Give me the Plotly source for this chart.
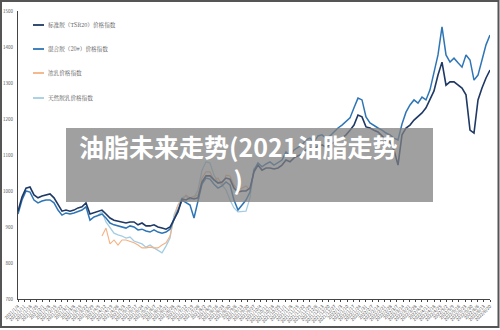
import numpy as np
import pandas as pd
import plotly.graph_objects as go

# ---- data ----
series_names = ["标准胶（TSR20）价格指数", "混合胶（20#）价格指数", "浓乳价格指数", "天然胶乳价格指数"]
series_colors = ["#1f3864", "#2e75b6", "#f4b183", "#a3cde3"]

tsr20 = [944, 983, 1008, 1011, 989, 981, 986, 989, 992, 981,
         961, 944, 947, 944, 947, 953, 956, 967, 936, 939,
         942, 947, 936, 925, 919, 917, 914, 911, 914, 914,
         906, 911, 903, 903, 906, 900, 897, 894, 900, 922,
         942, 978, 975, 981, 978, 981, 1025, 1042, 1042, 1031,
         1022, 1025, 1036, 1033, 1008, 997, 1000, 1000, 1008, 1053,
         1072, 1058, 1064, 1064, 1061, 1064, 1072, 1086, 1081, 1092,
         1097, 1103, 1114, 1119, 1114, 1125, 1128, 1122, 1128, 1136,
         1142, 1147, 1156, 1169, 1183, 1211, 1206, 1178, 1175, 1169,
         1164, 1153, 1142, 1136, 1114, 1072, 1156, 1175, 1183, 1197,
         1206, 1217, 1231, 1253, 1278, 1322, 1358, 1294, 1303, 1303,
         1294, 1286, 1267, 1169, 1161, 1253, 1286, 1314, 1336]

mix20 = [936, 975, 1000, 997, 975, 967, 972, 975, 975, 967,
         947, 933, 939, 936, 939, 942, 947, 956, 919, 928,
         931, 936, 925, 911, 906, 903, 900, 897, 903, 900,
         892, 894, 889, 886, 892, 886, 883, 886, 894, 919,
         947, 975, 967, 961, 925, 969, 1019, 1036, 1033, 1019,
         1008, 1014, 1025, 1017, 975, 947, 961, 975, 997, 1058,
         1078, 1067, 1075, 1081, 1072, 1078, 1086, 1108, 1097, 1114,
         1122, 1128, 1142, 1147, 1136, 1153, 1156, 1147, 1153, 1164,
         1175, 1183, 1192, 1203, 1231, 1258, 1253, 1206, 1189, 1181,
         1175, 1169, 1161, 1156, 1147, 1142, 1186, 1219, 1239, 1253,
         1244, 1261, 1253, 1281, 1331, 1378, 1456, 1378, 1358, 1369,
         1356, 1344, 1378, 1364, 1308, 1322, 1364, 1406, 1433]

latex_conc = [None] * 21 + [
         875, 897, 853, 864, 850, 864, 864, 861, 856,
         850, 842, 842, 844, 842, 842, 850, 856, 875, 925,
         961, 975, 989, 981, 986, 989, 1036, 1053, 1053, 1031,
         1036, 1017, 1044, 1042, 1017, 1003, 1008, 1014, 1003] + [None] * 60

latex_nat = [None] * 20 + [
         933, 942, 914, 897, 883, 878, 875, 869, 872, 861,
         856, 853, 844, 850, 842, 836, 828, 847, 869, 933,
         961, 981, 986, 975, 981, 1003, 1058, 1081, 1078, 1044,
         1025, 1017, 1003, 975, 953, 942, 942, 944, 981, 1064] + [None] * 59

tick_labels = [d.strftime("%Y/%-m/%-d") for d in pd.date_range("2021-01-04", periods=77, freq="W-MON")]
y_ticks = [700, 800, 900, 1000, 1100, 1200, 1300, 1400, 1500]

title_text = "油脂未来走势(2021油脂走势<br>)"

# ---- figure ----
W, H = 500, 330
ML, MR, MT, MB = 18, 10, 11, 31
PW, PH = W - ML - MR, H - MT - MB

def px_x(px):
    return (px - ML) / PW

def px_y(py):
    return (H - MB - py) / PH

n = len(tsr20)
xs = list(range(n))

fig = go.Figure()
widths = [1.6, 1.5, 1.1, 1.3]
all_vals = [tsr20, mix20, latex_conc, latex_nat]
# draw order: light ones first, darker on top
for k in [3, 2, 1, 0]:
    fig.add_trace(go.Scatter(x=xs, y=all_vals[k], mode="lines", name=series_names[k],
                             line=dict(color=series_colors[k], width=widths[k]),
                             connectgaps=False, showlegend=False))

tickvals = list(np.linspace(0, n - 1, len(tick_labels)))

fig.update_layout(
    width=W, height=H,
    margin=dict(l=ML, r=MR, t=MT, b=MB, autoexpand=False),
    paper_bgcolor="white", plot_bgcolor="white",
    font=dict(family="Noto Sans CJK SC, DejaVu Sans", color="#444"),
    xaxis=dict(range=[0, n - 1], tickvals=tickvals, ticktext=tick_labels, tickangle=-45,
               tickfont=dict(size=4.5, color="#555"), showgrid=False, zeroline=False,
               showline=True, linecolor="#444", linewidth=1, ticks="outside", ticklen=2,
               tickcolor="#444", tickwidth=0.8, automargin=False),
    yaxis=dict(range=[700, 1500], tickvals=y_ticks, tickfont=dict(size=4.5, color="#555"),
               showgrid=False, zeroline=False, showline=True, linecolor="#444", linewidth=1,
               ticks="", ticklabelstandoff=3, automargin=False),
)

# manual legend
leg_y = [25, 49, 73, 98]
for k in range(4):
    fig.add_shape(type="line", xref="paper", yref="paper",
                  x0=px_x(33), x1=px_x(44), y0=px_y(leg_y[k]), y1=px_y(leg_y[k]),
                  line=dict(color=series_colors[k], width=1.8))
    fig.add_annotation(xref="paper", yref="paper", x=px_x(46), y=px_y(leg_y[k]),
                       xanchor="left", yanchor="middle", showarrow=False,
                       text=series_names[k], font=dict(size=5.6, color="#555",
                       family="Noto Serif CJK SC, Noto Sans CJK SC"))

# title overlay box
fig.add_shape(type="rect", xref="paper", yref="paper",
              x0=px_x(66), x1=px_x(433), y0=px_y(202), y1=px_y(128),
              fillcolor="rgba(128,128,128,0.75)", line=dict(width=0), layer="above")
fig.add_annotation(xref="paper", yref="paper", x=px_x(238), y=px_y(162),
                   xanchor="center", yanchor="middle", showarrow=False,
                   text="<b>" + title_text + "</b>", align="center",
                   font=dict(size=25, color="white", family="Noto Sans CJK SC"))

# frame border
fig.add_shape(type="rect", xref="paper", yref="paper",
              x0=px_x(1), x1=px_x(498.5), y0=px_y(327), y1=px_y(1),
              line=dict(color="#555", width=2), layer="above")

fig.write_html("out.html")
